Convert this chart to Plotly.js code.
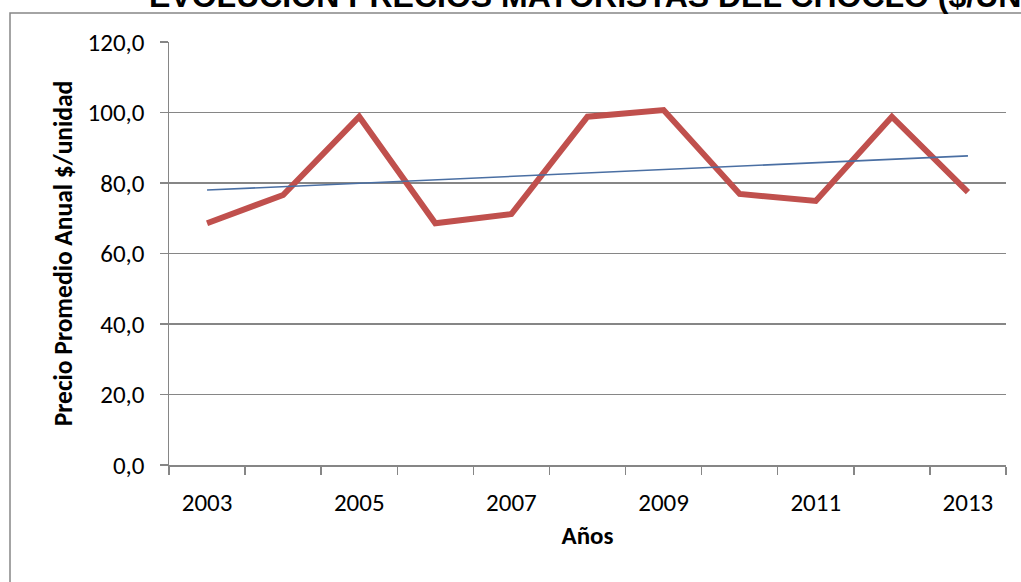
<!DOCTYPE html>
<html>
<head>
<meta charset="utf-8">
<script src="https://cdn.plot.ly/plotly-3.0.1.min.js"></script>
<style>
  html, body { margin: 0; padding: 0; background: #ffffff; }
  #chart { width: 1021px; height: 582px; }
</style>
</head>
<body>
<div id="chart"></div>
<script>
// ---- data ----
const years = [2003, 2004, 2005, 2006, 2007, 2008, 2009, 2010, 2011, 2012, 2013];
const prices = [68.6, 76.6, 98.8, 68.6, 71.2, 98.8, 100.7, 76.9, 74.9, 98.8, 77.4];
const trendYears = [2003, 2013];
const trendValues = [78.0, 87.7];
const labelYears = [2003, 2005, 2007, 2009, 2011, 2013];
const yTicks = [0, 20, 40, 60, 80, 100, 120];

const titleText = 'EVOLUCION PRECIOS MAYORISTAS DEL CHOCLO ($/UNIDAD)';
const xTitle = 'Años';
const yTitle = 'Precio Promedio Anual $/unidad';

// ---- layout helpers ----
const W = 1021, H = 582;
const mL = 169, mR = 15, mT = 42, mB = 117;
const pw = W - mL - mR, ph = H - mT - mB;
const px2x = p => (p - mL) / pw;
const py2y = p => (H - mB - p) / ph;

const bodyFont = 'Carlito, Lato, "Liberation Sans", sans-serif';
const grey = '#868686';

const boundaries = [years[0] - 0.5].concat(years.map(y => y + 0.5));

const traces = [
  {
    x: years, y: prices, type: 'scatter', mode: 'lines',
    line: { color: '#C0504D', width: 6 },
    hoverinfo: 'x+y', showlegend: false
  },
  {
    x: trendYears, y: trendValues, type: 'scatter', mode: 'lines',
    line: { color: '#4A6FA3', width: 1.6 },
    hoverinfo: 'skip', showlegend: false
  }
];

const layout = {
  width: W, height: H,
  margin: { l: mL, r: mR, t: mT, b: mB, pad: 0 },
  paper_bgcolor: '#ffffff', plot_bgcolor: '#ffffff',
  separators: ',.',
  showlegend: false,
  font: { family: bodyFont, color: '#000000', size: 25 },
  xaxis: {
    type: 'linear',
    range: [years[0] - 0.5, years[years.length - 1] + 0.5],
    tickmode: 'array', tickvals: labelYears, ticktext: labelYears.map(String),
    ticks: 'outside', ticklen: 14, tickcolor: 'rgba(0,0,0,0)',
    tickfont: { family: bodyFont, size: 25, color: '#000' },
    showgrid: false, zeroline: false,
    showline: true, linecolor: grey, linewidth: 1.5,
    minor: { tickmode: 'array', tickvals: boundaries, ticks: 'outside', ticklen: 8, tickcolor: grey, tickwidth: 1.5, showgrid: false },
    title: { text: '<b>' + xTitle + '</b>', font: { family: bodyFont, size: 25, color: '#000' }, standoff: 10 },
    fixedrange: true
  },
  yaxis: {
    range: [0, 120],
    tickmode: 'array', tickvals: yTicks, tickformat: '.1f',
    ticks: 'outside', ticklen: 8, tickcolor: grey, tickwidth: 1.5,
    ticklabelstandoff: 10,
    tickfont: { family: bodyFont, size: 25, color: '#000' },
    showgrid: true, gridcolor: grey, gridwidth: 1.4,
    zeroline: false,
    showline: true, linecolor: grey, linewidth: 1.5,
    title: { text: '<b>' + yTitle + '</b>', font: { family: bodyFont, size: 25.5, color: '#000' }, standoff: 7 },
    fixedrange: true
  },
  annotations: [
    {
      text: '<b>' + titleText + '</b>',
      xref: 'paper', yref: 'paper',
      x: px2x(147), y: py2y(16),
      xanchor: 'left', yanchor: 'bottom',
      showarrow: false,
      font: { family: '"Liberation Sans", Arial, sans-serif', size: 32, color: '#000' }
    }
  ],
  shapes: [
    {
      type: 'rect', xref: 'paper', yref: 'paper', layer: 'below',
      x0: px2x(10), x1: px2x(W + 40), y0: py2y(H + 40), y1: py2y(13),
      line: { color: grey, width: 1.5 }, fillcolor: 'rgba(0,0,0,0)'
    }
  ]
};

Plotly.newPlot('chart', traces, layout, { displayModeBar: false, staticPlot: true });
</script>
</body>
</html>
